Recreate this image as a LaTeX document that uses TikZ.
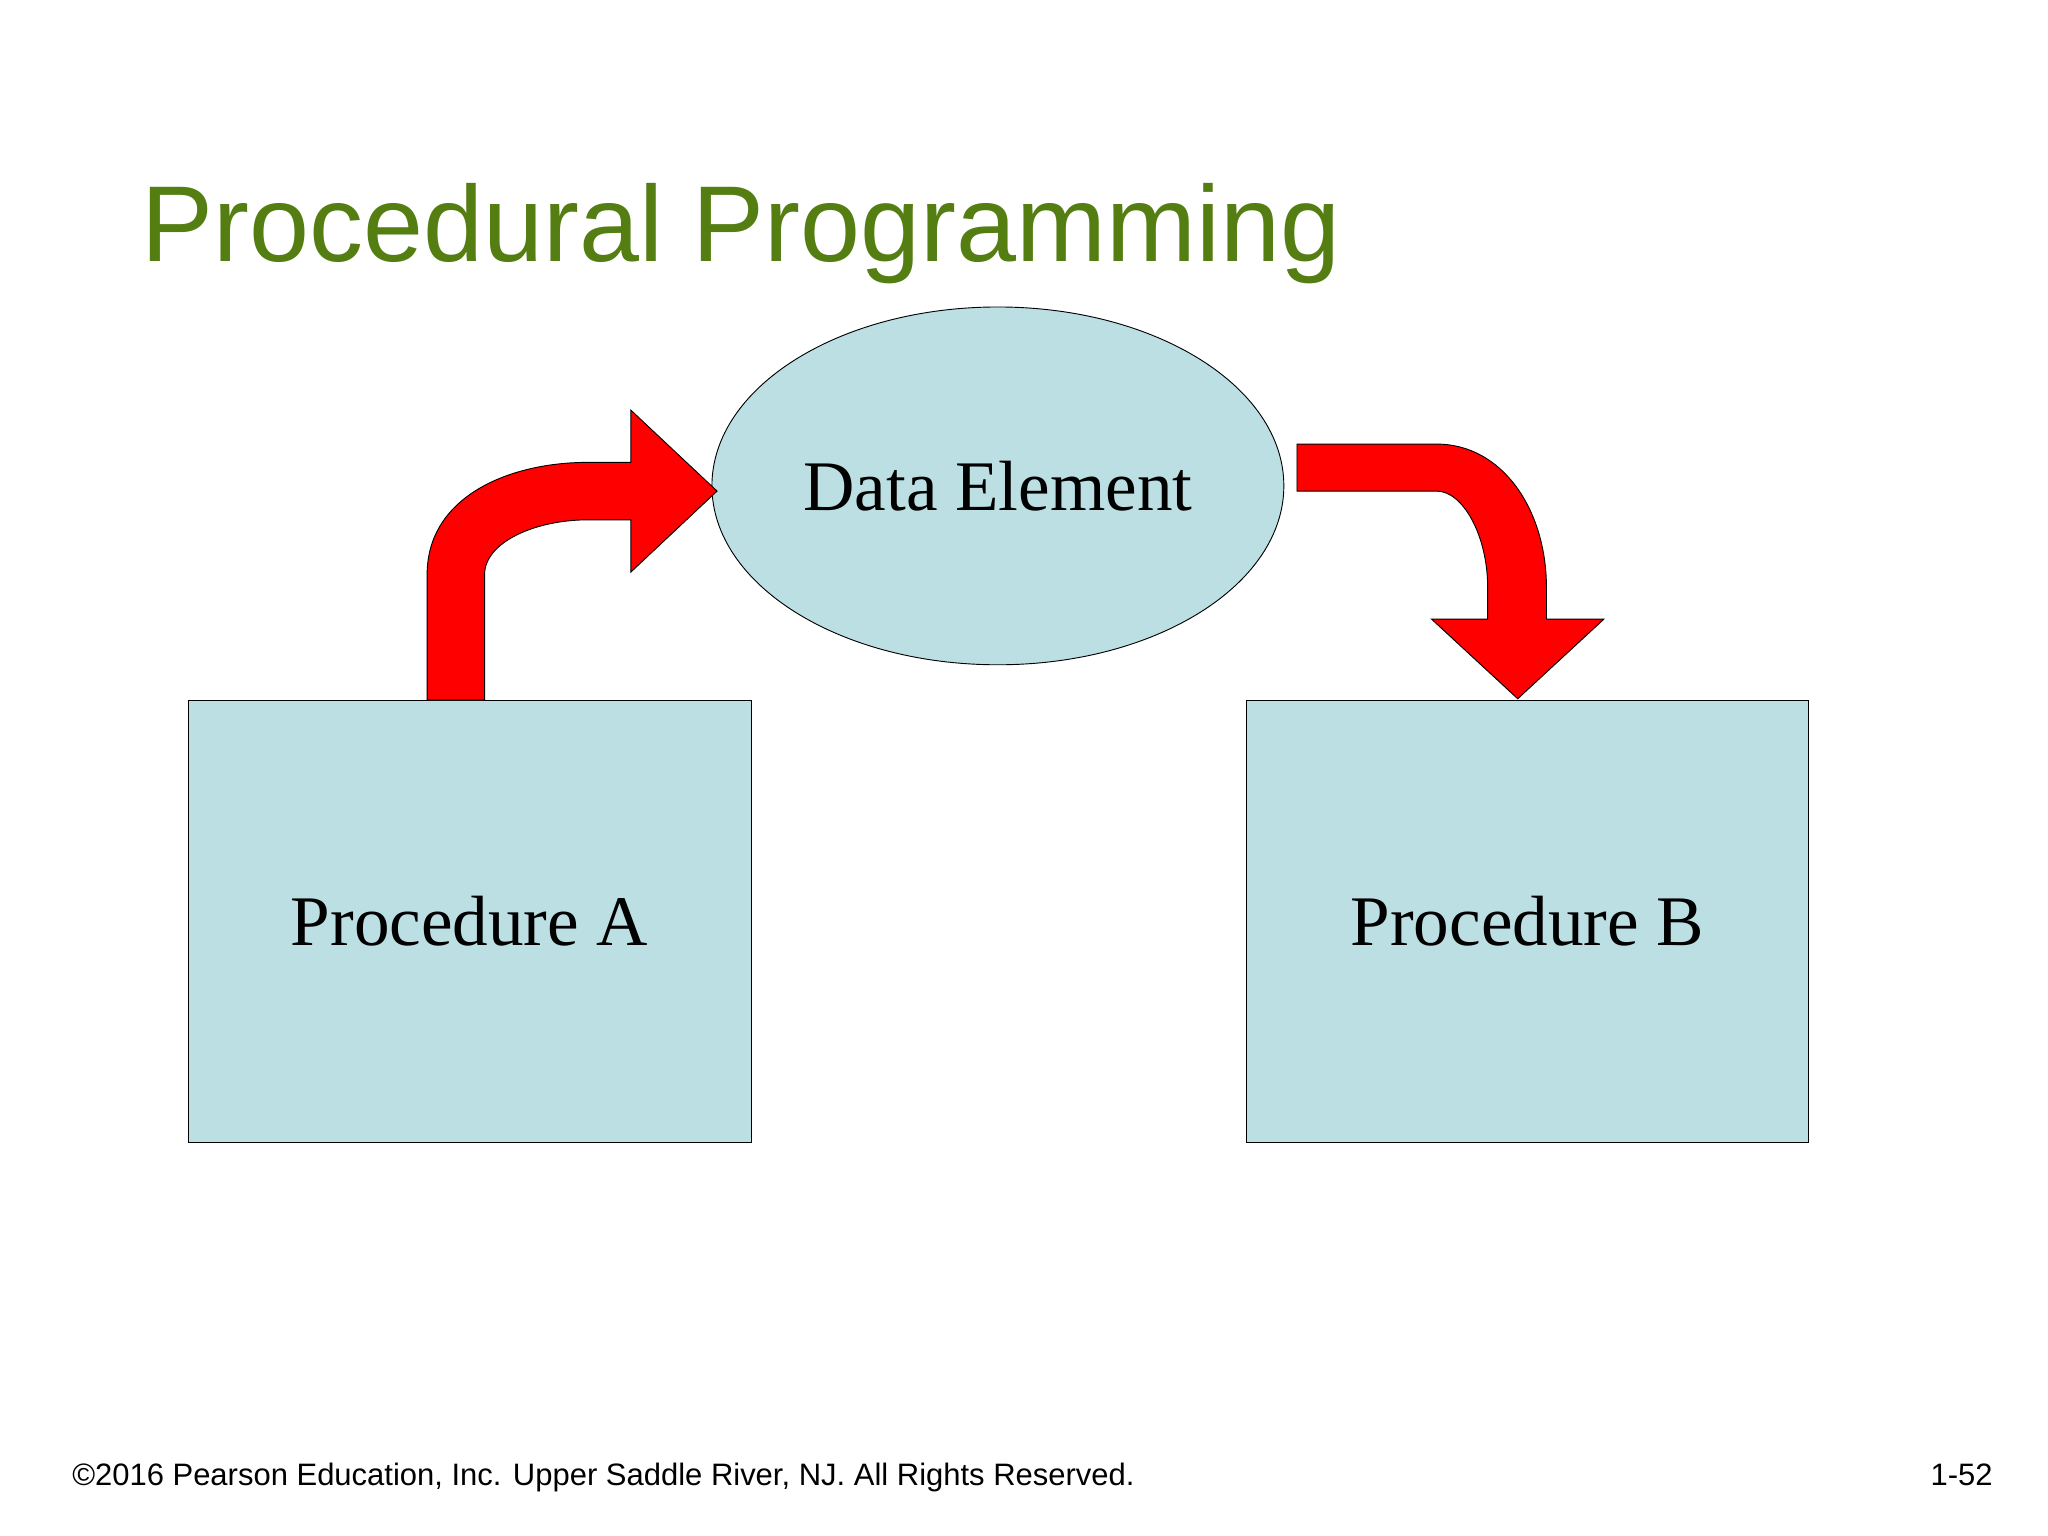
\documentclass[tikz,border=0pt]{standalone}
\usepackage{fontspec}
\setmainfont{Liberation Serif}
\newfontfamily\arialfont{Liberation Sans}
\usetikzlibrary{shapes.geometric}
\definecolor{boxblue}{RGB}{188,223,227}
\definecolor{titlegreen}{RGB}{84,125,18}
\definecolor{arrowred}{RGB}{255,0,0}
\begin{document}
\begin{tikzpicture}
[
    x=0.02cm, y=-0.02cm,
    procbox/.style={draw, fill=boxblue, minimum width=8.62cm, minimum height=6.78cm, font=\fontsize{31}{36}\selectfont},
    bigarrow/.style={draw, fill=arrowred, line join=miter},
]
\useasboundingbox (0,0) rectangle (1568,1176);
\node [anchor=base west, text=titlegreen, font=\arialfont\fontsize{47}{56}\selectfont, inner sep=0pt] (title) at (108,200) {Procedural Programming};
\node [draw, ellipse, fill=boxblue, minimum width=8.6cm, minimum height=5.48cm, font=\fontsize{31}{36}\selectfont] (data) at (764,372) {Data Element};
\node [procbox] (procA) at (359.5,705.5) {Procedure A};
\node [procbox] (procB) at (1169.5,705.5) {Procedure B};
% arrows
\draw [bigarrow] (327,536) -- (327,440) .. controls (327,380) and (390,354) .. (450,354) -- (483,354) -- (483,314) -- (549,376) -- (483,438) -- (483,398) -- (450,398) .. controls (410,398) and (371,415) .. (371,440) -- (371,536) -- cycle;
\draw [bigarrow] (993,340) -- (1100,340) .. controls (1150,340) and (1184,390) .. (1184,450) -- (1184,474) -- (1228,474) -- (1162,535) -- (1096,474) -- (1139,474) -- (1139,450) .. controls (1139,410) and (1120,376) .. (1100,376) -- (993,376) -- cycle;
% footer
\node [anchor=base west, font=\arialfont\fontsize{13.5}{16}\selectfont, inner sep=0pt] (copy) at (55,1137) {©2016 Pearson Education, Inc. Upper Saddle River, NJ. All Rights Reserved.};
\node [anchor=base east, font=\arialfont\fontsize{13.5}{16}\selectfont, inner sep=0pt] (page) at (1526,1137) {1-52};
\end{tikzpicture}
\end{document}
